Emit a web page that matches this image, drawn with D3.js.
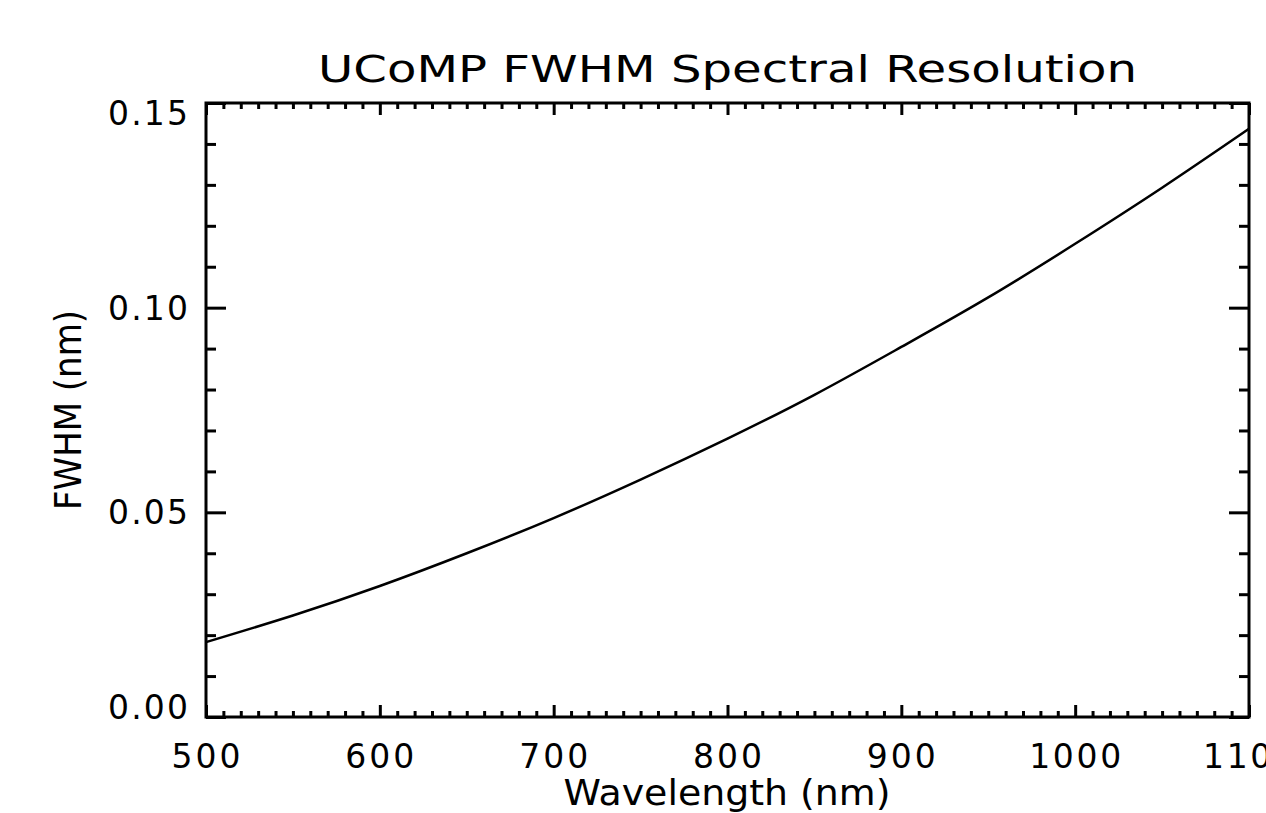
<!DOCTYPE html>
<html>
<head>
<meta charset="utf-8">
<script src="https://cdn.jsdelivr.net/npm/d3@7"></script>
<style>
  html, body { margin: 0; padding: 0; background: #fff; overflow: hidden; }
  svg { display: block; }
  text { font-family: "DejaVu Sans", "Liberation Sans", sans-serif; fill: #000; }
</style>
</head>
<body>
<svg id="chart" width="1266" height="813"></svg>
<script>
// data
const wavelength = [500, 550, 600, 650, 700, 750, 800, 850, 900, 950, 1000, 1050, 1100];
const fwhm = [0.0183, 0.0248, 0.0320, 0.0400, 0.0486, 0.0580, 0.0680, 0.0787, 0.0904, 0.1025, 0.1156, 0.1293, 0.1437];

const xMajor = [500, 600, 700, 800, 900, 1000, 1100];
const xTickLabels = ["500", "600", "700", "800", "900", "1000", "1100"];
const yMajor = [0, 0.05, 0.10, 0.15];
const yTickLabels = ["0.00", "0.05", "0.10", "0.15"];

const titleText = "UCoMP FWHM Spectral Resolution";
const xTitle = "Wavelength (nm)";
const yTitle = "FWHM (nm)";

// plot box
const boxL = 206, boxR = 1249, boxT = 103, boxB = 717;

const svg = d3.select("#chart");

const x = d3.scaleLinear().domain([500, 1100]).range([boxL, boxR]);
const y = d3.scaleLinear().domain([0, 0.15]).range([boxB, boxT]);

const xMinor = d3.range(500, 1101, 10).filter(v => v % 100 !== 0);
const yMinor = d3.range(0, 16).map(i => i / 100).filter(v => Math.round(v * 100) % 5 !== 0);

// helper to style tick lines
function styleTicks(g) {
    g.select(".domain").remove();
    g.selectAll(".tick text").remove();
    g.selectAll(".tick line").attr("stroke", "#000").attr("stroke-width", 3);
}

// bottom + top axes (ticks pointing in)
svg.append("g").attr("transform", `translate(0,${boxB})`)
    .call(d3.axisBottom(x).tickValues(xMajor).tickSize(-12).tickSizeOuter(0)).call(styleTicks);
svg.append("g").attr("transform", `translate(0,${boxB})`)
    .call(d3.axisBottom(x).tickValues(xMinor).tickSize(-6).tickSizeOuter(0)).call(styleTicks);
svg.append("g").attr("transform", `translate(0,${boxT})`)
    .call(d3.axisTop(x).tickValues(xMajor).tickSize(-12).tickSizeOuter(0)).call(styleTicks);
svg.append("g").attr("transform", `translate(0,${boxT})`)
    .call(d3.axisTop(x).tickValues(xMinor).tickSize(-6).tickSizeOuter(0)).call(styleTicks);

// left + right axes
svg.append("g").attr("transform", `translate(${boxL},0)`)
    .call(d3.axisLeft(y).tickValues(yMajor).tickSize(-20).tickSizeOuter(0)).call(styleTicks);
svg.append("g").attr("transform", `translate(${boxL},0)`)
    .call(d3.axisLeft(y).tickValues(yMinor).tickSize(-10).tickSizeOuter(0)).call(styleTicks);
svg.append("g").attr("transform", `translate(${boxR},0)`)
    .call(d3.axisRight(y).tickValues(yMajor).tickSize(-20).tickSizeOuter(0)).call(styleTicks);
svg.append("g").attr("transform", `translate(${boxR},0)`)
    .call(d3.axisRight(y).tickValues(yMinor).tickSize(-10).tickSizeOuter(0)).call(styleTicks);

// frame
svg.append("rect")
    .attr("x", boxL).attr("y", boxT)
    .attr("width", boxR - boxL).attr("height", boxB - boxT)
    .attr("fill", "none").attr("stroke", "#000").attr("stroke-width", 3);

// curve
const line = d3.line()
    .x((d, i) => x(wavelength[i]))
    .y(d => y(d))
    .curve(d3.curveNatural);

svg.append("path")
    .datum(fwhm)
    .attr("d", line)
    .attr("fill", "none")
    .attr("stroke", "#000")
    .attr("stroke-width", 2.5);

// x tick labels (last one runs off the page, like the original)
svg.append("g").selectAll("text")
    .data(xMajor)
    .enter().append("text")
    .attr("x", d => x(d))
    .attr("y", boxB + 51)
    .attr("text-anchor", "middle")
    .attr("font-size", 33)
    .attr("textLength", (d, i) => xTickLabels[i].length * 23)
    .attr("lengthAdjust", "spacing")
    .text((d, i) => xTickLabels[i]);

// y tick labels, end ones nudged inward as in the original
svg.append("g").selectAll("text")
    .data(yMajor)
    .enter().append("text")
    .attr("x", boxL - 18)
    .attr("y", d => y(d) + 12 + (d === 0.15 ? 10 : d === 0 ? -10 : 0))
    .attr("text-anchor", "end")
    .attr("font-size", 33)
    .attr("textLength", 80)
    .attr("lengthAdjust", "spacing")
    .text((d, i) => yTickLabels[i]);

// title
svg.append("text")
    .attr("x", 727.5)
    .attr("y", 82)
    .attr("text-anchor", "middle")
    .attr("font-size", 38)
    .attr("textLength", 819)
    .attr("lengthAdjust", "spacingAndGlyphs")
    .text(titleText);

// axis titles
svg.append("text")
    .attr("x", 727)
    .attr("y", 805)
    .attr("text-anchor", "middle")
    .attr("font-size", 35)
    .attr("textLength", 327)
    .attr("lengthAdjust", "spacingAndGlyphs")
    .text(xTitle);

svg.append("text")
    .attr("transform", "translate(81,410) rotate(-90)")
    .attr("text-anchor", "middle")
    .attr("font-size", 38)
    .attr("textLength", 200)
    .attr("lengthAdjust", "spacingAndGlyphs")
    .text(yTitle);
</script>
</body>
</html>
